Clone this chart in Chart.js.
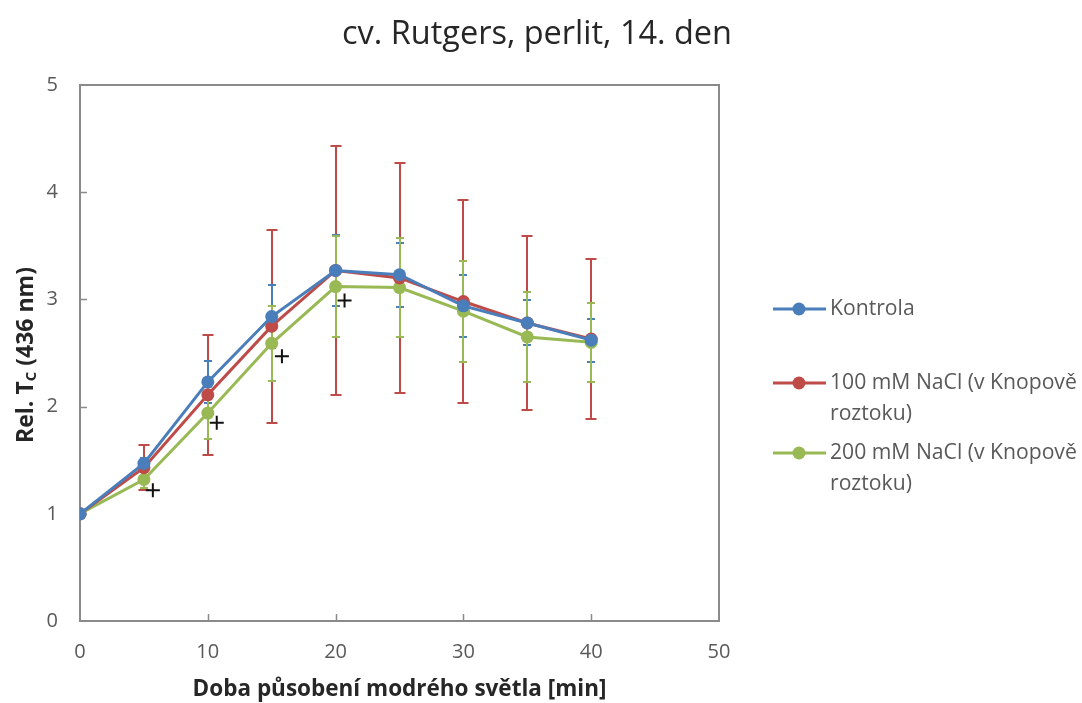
<!DOCTYPE html>
<html>
<head>
<meta charset="utf-8">
<script src="https://cdn.jsdelivr.net/npm/chart.js@4.4.1/dist/chart.umd.min.js"></script>
<style>
body{margin:0;background:#fff;}
#wrap{width:1082px;height:703px;position:relative;}
</style>
</head>
<body>
<div id="wrap"><canvas id="tcChart"></canvas></div>
<script>

var times = [0, 5, 10, 15, 20, 25, 30, 35, 40];

var kontrola    = [1, 1.47, 2.23, 2.84, 3.27, 3.23, 2.94, 2.78, 2.62];
var kontrolaErr = [0, 0.05, 0.20, 0.29, 0.33, 0.30, 0.29, 0.21, 0.20];

var nacl100    = [1, 1.43, 2.11, 2.75, 3.27, 3.20, 2.98, 2.78, 2.63];
var nacl100Err = [0, 0.21, 0.56, 0.90, 1.16, 1.07, 0.95, 0.81, 0.75];

var nacl200    = [1, 1.32, 1.94, 2.59, 3.12, 3.11, 2.89, 2.65, 2.60];
var nacl200Err = [0, 0.08, 0.24, 0.35, 0.47, 0.46, 0.47, 0.42, 0.37];

// significance marks (+)
var signifX = [5.7, 10.7, 15.8, 20.7];
var signifY = [1.22, 1.85, 2.47, 2.99];

var seriesNames = ["Kontrola", ["100 mM NaCl (v Knopově", "roztoku)"], ["200 mM NaCl (v Knopově", "roztoku)"]];
var seriesColors = ["#4a7ebb", "#be4b48", "#98b954"];

var xTicks = [0, 10, 20, 30, 40, 50];
var yTicks = [0, 1, 2, 3, 4, 5];

var titleText = "cv. Rutgers, perlit, 14. den";
var xTitle = "Doba působení modrého světla [min]";

var FONT = "'Open Sans', 'DejaVu Sans', sans-serif";

function toPoints(xs, ys){
	var pts = [];
	for(var i = 0; i < xs.length; i++){
		pts.push({x: xs[i], y: ys[i]});
	}
	return pts;
}

function lineSet(name, values, err, color){
	return {
		label: name,
		data: toPoints(times, values),
		errors: err,
		showLine: true,
		borderColor: color,
		backgroundColor: color,
		borderWidth: 3,
		pointRadius: 6.5,
		pointHoverRadius: 6.5,
		pointBorderWidth: 0,
		tension: 0
	};
}

// font size that makes a text about as wide as the original one
function fitFont(ctx, text, weight, width){
	ctx.font = weight + "100px " + FONT;
	return 100 * width / ctx.measureText(text).width;
}

// error bars, drawn behind the lines (red first, then blue, then green)
var errorBars = {
	id: "errorBars",
	beforeDatasetsDraw: function(chart){
		var ctx = chart.ctx;
		var xs = chart.scales.x, ys = chart.scales.y;
		var order = [1, 0, 2];
		var caps = [4, 5.5, 4];
		ctx.save();
		for(var o = 0; o < order.length; o++){
			var d = order[o];
			var ds = chart.data.datasets[d];
			ctx.strokeStyle = ds.borderColor;
			ctx.lineWidth = 2;
			for(var i = 0; i < ds.data.length; i++){
				var e = ds.errors[i];
				if(!e) continue;
				var px = Math.round(xs.getPixelForValue(ds.data[i].x));
				var top = Math.round(ys.getPixelForValue(ds.data[i].y + e));
				var bot = Math.round(ys.getPixelForValue(ds.data[i].y - e));
				var c = caps[d];
				ctx.beginPath();
				ctx.moveTo(px, top); ctx.lineTo(px, bot);
				ctx.moveTo(px - c, top); ctx.lineTo(px + c, top);
				ctx.moveTo(px - c, bot); ctx.lineTo(px + c, bot);
				ctx.stroke();
			}
		}
		ctx.restore();
	}
};

// plot frame, inside tick marks, titles and legend
var decorations = {
	id: "decorations",
	beforeDraw: function(chart){
		var ctx = chart.ctx;
		var a = chart.chartArea;
		var xs = chart.scales.x, ys = chart.scales.y;
		ctx.save();
		ctx.strokeStyle = "#8a8a8a";
		ctx.lineWidth = 2;
		ctx.strokeRect(a.left, a.top, a.right - a.left, a.bottom - a.top);
		ctx.beginPath();
		for(var i = 1; i < xTicks.length - 1; i++){
			var px = Math.round(xs.getPixelForValue(xTicks[i])) + 0.5;
			ctx.moveTo(px, a.bottom); ctx.lineTo(px, a.bottom - 7);
		}
		for(var j = 1; j < yTicks.length - 1; j++){
			var py = Math.round(ys.getPixelForValue(yTicks[j])) + 0.5;
			ctx.moveTo(a.left, py); ctx.lineTo(a.left + 7, py);
		}
		ctx.lineWidth = 1.5;
		ctx.stroke();
		ctx.restore();
	},
	afterDraw: function(chart){
		var ctx = chart.ctx;
		var a = chart.chartArea;
		ctx.save();

		// title
		ctx.fillStyle = "#262626";
		var ts = fitFont(ctx, titleText, "", 390);
		ctx.font = ts + "px " + FONT;
		ctx.textAlign = "center";
		ctx.textBaseline = "middle";
		ctx.fillText(titleText, 537, 35);

		// x axis title
		var xsz = fitFont(ctx, xTitle, "bold ", 414);
		ctx.font = "bold " + xsz + "px " + FONT;
		ctx.fillText(xTitle, (a.left + a.right) / 2, 690);

		// y axis title with subscript
		ctx.translate(26, 355);
		ctx.rotate(-Math.PI / 2);
		var p1 = "Rel. T", sub = "C", p2 = " (436 nm)";
		var big = 23, small = 15;
		ctx.font = "bold " + big + "px " + FONT;
		var w1 = ctx.measureText(p1).width;
		var w3 = ctx.measureText(p2).width;
		ctx.font = "bold " + small + "px " + FONT;
		var w2 = ctx.measureText(sub).width;
		var x0 = -(w1 + w2 + w3) / 2;
		ctx.textAlign = "left";
		ctx.font = "bold " + big + "px " + FONT;
		ctx.fillText(p1, x0, 0);
		ctx.font = "bold " + small + "px " + FONT;
		ctx.fillText(sub, x0 + w1, 6);
		ctx.font = "bold " + big + "px " + FONT;
		ctx.fillText(p2, x0 + w1 + w2, 0);
		ctx.setTransform(1, 0, 0, 1, 0, 0);

		// legend
		var rows = [309, 383, 453];
		var ls = fitFont(ctx, seriesNames[1][0], "", 247);
		ctx.font = ls + "px " + FONT;
		ctx.textAlign = "left";
		ctx.textBaseline = "middle";
		for(var k = 0; k < seriesNames.length; k++){
			var y = rows[k];
			ctx.strokeStyle = seriesColors[k];
			ctx.fillStyle = seriesColors[k];
			ctx.lineWidth = 3;
			ctx.beginPath();
			ctx.moveTo(773, y); ctx.lineTo(826, y);
			ctx.stroke();
			ctx.beginPath();
			ctx.arc(799, y, 6.5, 0, Math.PI * 2);
			ctx.fill();
			ctx.fillStyle = "#595959";
			var lines = [].concat(seriesNames[k]);
			for(var m = 0; m < lines.length; m++){
				ctx.fillText(lines[m], 830, y + m * 31);
			}
		}
		ctx.restore();
	}
};

var ctx = document.getElementById("tcChart");
var chart = new Chart(ctx, {
	type: "scatter",
	data: {
		datasets: [
			lineSet("Kontrola", kontrola, kontrolaErr, seriesColors[0]),
			lineSet("100 mM NaCl (v Knopově roztoku)", nacl100, nacl100Err, seriesColors[1]),
			lineSet("200 mM NaCl (v Knopově roztoku)", nacl200, nacl200Err, seriesColors[2]),
			{
				label: "signif",
				data: toPoints(signifX, signifY),
				errors: [],
				showLine: false,
				pointStyle: "cross",
				pointRadius: 7,
				pointHoverRadius: 7,
				borderColor: "#111",
				borderWidth: 2
			}
		]
	},
	options: {
		responsive: true,
		maintainAspectRatio: false,
		animation: false,
		events: [],
		layout: {
			padding: {left: 0, right: 363, top: 85, bottom: 0}
		},
		plugins: {
			legend: {display: false},
			title: {display: false},
			tooltip: {enabled: false}
		},
		scales: {
			x: {
				type: "linear",
				min: 0,
				max: 50,
				afterBuildTicks: function(scale){
					scale.ticks = xTicks.map(function(v){ return {value: v}; });
				},
				afterFit: function(scale){ scale.height = 82; },
				grid: {display: false, drawTicks: false},
				border: {display: false},
				ticks: {
					padding: 19,
					color: "#595959",
					font: {family: FONT, size: 20}
				}
			},
			y: {
				type: "linear",
				min: 0,
				max: 5,
				afterBuildTicks: function(scale){
					scale.ticks = yTicks.map(function(v){ return {value: v}; });
				},
				afterFit: function(scale){ scale.width = 80; },
				grid: {display: false, drawTicks: false},
				border: {display: false},
				ticks: {
					padding: 22,
					color: "#595959",
					font: {family: FONT, size: 20}
				}
			}
		}
	},
	plugins: [errorBars, decorations]
});

</script>
</body>
</html>
